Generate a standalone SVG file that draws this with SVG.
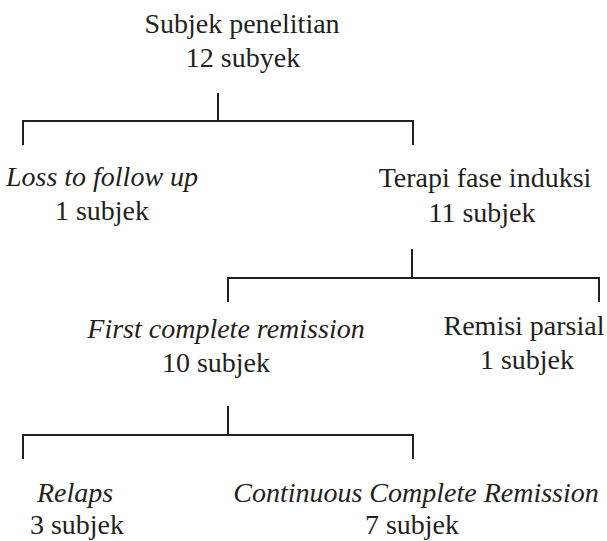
<svg xmlns="http://www.w3.org/2000/svg" width="607" height="541" viewBox="0 0 607 541">
<style>
text{font-family:"Liberation Serif","Times New Roman",Times,serif;font-size:28px;font-weight:normal;fill:#231f20;text-anchor:middle}
.it{font-style:italic}
.ln{stroke:#231f20;stroke-width:2;fill:none}
</style>
<rect width="607" height="541" fill="#ffffff"/>
<g id="connectors">
<path class="ln" d="M218,93V121M23,145V121H413V145"/>
<path class="ln" d="M412,249V278M228,302V278H599V302"/>
<path class="ln" d="M228,406V435M23,459V435H413V459"/>
</g>
<g font-family="Liberation Serif, serif">
<g id="node-subjek"><text x="242" y="33">Subjek penelitian</text><text x="243" y="67">12 subyek</text></g>
<g id="node-loss"><text class="it" x="102" y="186">Loss to follow up</text><text x="102" y="220">1 subjek</text></g>
<g id="node-terapi"><text x="485" y="187">Terapi fase induksi</text><text x="482" y="222">11 subjek</text></g>
<g id="node-first"><text class="it" x="226" y="338">First complete remission</text><text x="216" y="372">10 subjek</text></g>
<g id="node-remisi"><text x="524" y="335">Remisi parsial</text><text x="527" y="369">1 subjek</text></g>
<g id="node-relaps"><text class="it" x="75" y="502">Relaps</text><text x="77" y="534">3 subjek</text></g>
<g id="node-ccr"><text class="it" x="416" y="502">Continuous Complete Remission</text><text x="412" y="534">7 subjek</text></g>
</g>
</svg>
